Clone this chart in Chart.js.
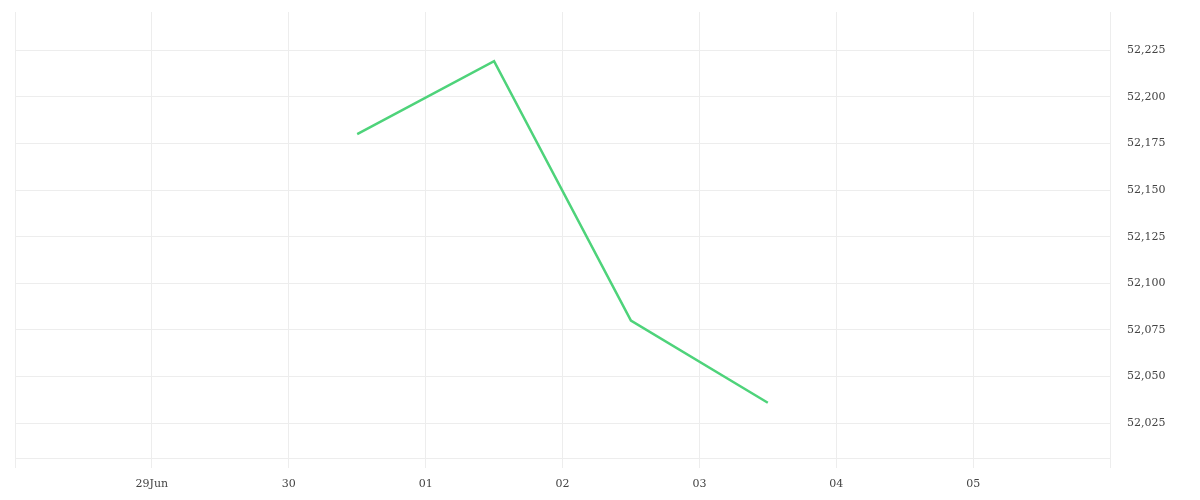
<!DOCTYPE html>
<html>
<head>
<meta charset="utf-8">
<script src="https://cdn.jsdelivr.net/npm/chart.js@4"></script>
<style>
  html, body { margin: 0; padding: 0; background: #fff; }
  #wrap { width: 1200px; height: 500px; }
</style>
</head>
<body>
<div id="wrap"><canvas id="myChart" width="1200" height="500"></canvas></div>
<script>
// etiquetas de los dias (la primera y la ultima van vacias)
const dayLabels = ['', '29Jun', '30', '01', '02', '03', '04', '05', ''];
// posicion de cada punto, medio dia dentro de su dia
const pointDays = [2.5, 3.5, 4.5, 5.5];
const pointValues = [52180, 52219, 52080, 52036];
const yTicks = [52025, 52050, 52075, 52100, 52125, 52150, 52175, 52200, 52225];

const gridColor = '#ededed';
const fontSpec = { family: '"DejaVu Serif", serif', size: 11 };

const ctx = document.getElementById('myChart');
new Chart(ctx, {
  type: 'line',
  data: {
    datasets: [{
      data: pointDays.map((d, i) => ({ x: d, y: pointValues[i] })),
      borderColor: 'rgb(78, 211, 122)',
      borderWidth: 2.5,
      pointRadius: 0,
      tension: 0,
      fill: false
    }]
  },
  options: {
    responsive: false,
    animation: false,
    layout: { padding: { left: 15, top: 12, right: 0, bottom: 0 } },
    plugins: { legend: { display: false }, tooltip: { enabled: false } },
    scales: {
      x: {
        type: 'linear',
        min: 0,
        max: dayLabels.length - 1,
        afterBuildTicks: (axis) => { axis.ticks = dayLabels.map((_, i) => ({ value: i })); },
        afterFit: (axis) => { axis.height = 42; axis.paddingLeft = 0; axis.paddingRight = 0; },
        grid: { color: gridColor, tickLength: 10, drawTicks: true },
        border: { color: gridColor },
        ticks: {
          autoSkip: false,
          maxRotation: 0,
          padding: 10,
          color: '#444',
          font: fontSpec,
          callback: (v) => dayLabels[v] ?? ''
        }
      },
      y: {
        position: 'right',
        min: 52006.4,
        max: 52245.4,
        afterBuildTicks: (axis) => { axis.ticks = yTicks.map((v) => ({ value: v })); },
        afterFit: (axis) => { axis.width = 90; axis.paddingTop = 0; axis.paddingBottom = 0; },
        grid: { color: gridColor, drawTicks: false },
        border: { color: gridColor },
        ticks: {
          padding: 17,
          color: '#444',
          font: fontSpec,
          callback: (v) => v.toLocaleString('en-US')
        }
      }
    }
  }
});
</script>
</body>
</html>
